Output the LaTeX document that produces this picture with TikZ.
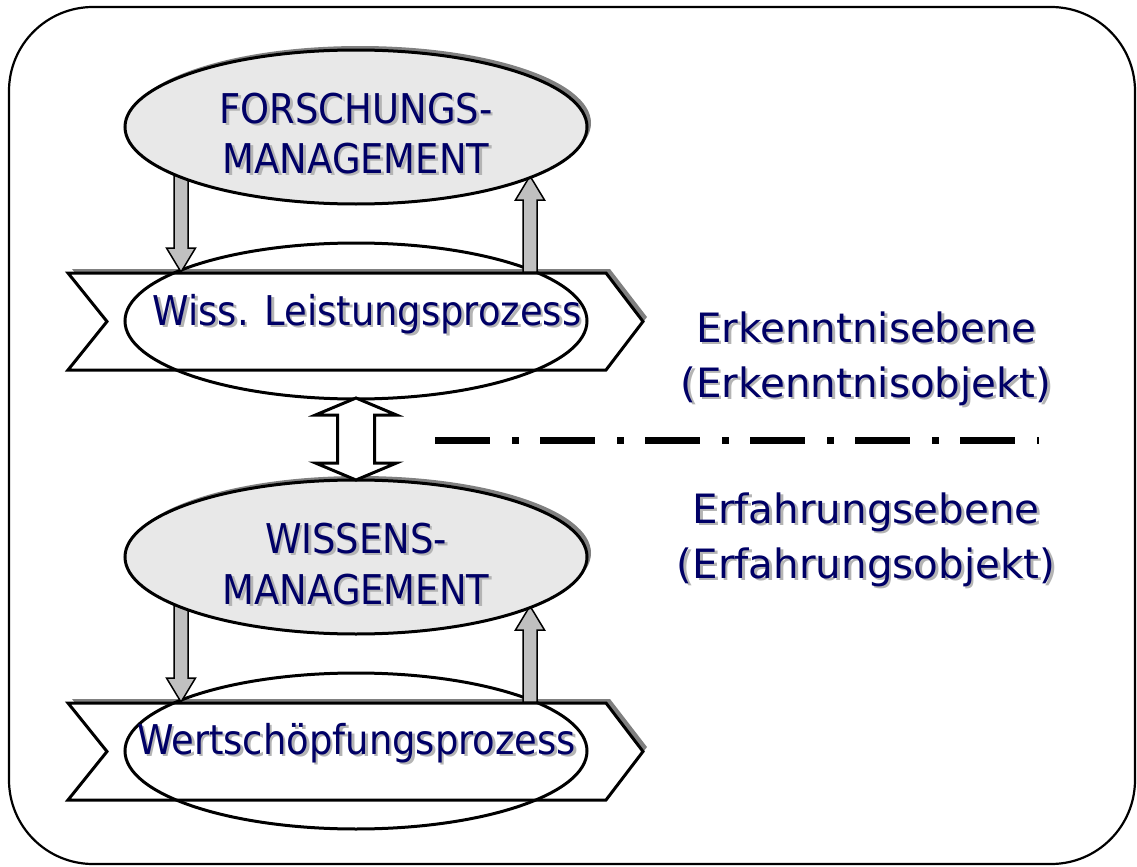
\documentclass[tikz,border=0pt]{standalone}
\usepackage{fontspec}
\setmainfont{DejaVu Sans}
\newfontfamily\condfont[FakeStretch=0.9]{DejaVu Sans}
\usetikzlibrary{shapes.geometric,calc}
\definecolor{txtnavy}{RGB}{0,0,102}
\definecolor{txtshadow}{RGB}{180,180,180}
\definecolor{ellfill}{RGB}{232,232,232}
\definecolor{shadowgray}{RGB}{128,128,128}
\definecolor{arrowgray}{RGB}{192,192,192}
\newcommand\shtxt[1]{\makebox[0pt][l]{\hspace{1.3pt}\raisebox{-1.3pt}{\color{txtshadow}#1}}{\color{txtnavy}#1}}
\newcommand\blk[3]{\draw[blockarr] ($(#1)+(-7,0)$) -- ($(#2)+(-7,-24*#3)$) -- ($(#2)+(-14.5,-24*#3)$) -- (#2) -- ($(#2)+(14.5,-24*#3)$) -- ($(#2)+(7,-24*#3)$) -- ($(#1)+(7,0)$) -- cycle;}
\tikzset{
  mgmt/.style={ellipse, draw, line width=1.5pt, fill=ellfill, minimum width=231pt, minimum height=77pt, inner sep=0pt},
  mgmtshadow/.style={ellipse, fill=shadowgray, minimum width=231pt, minimum height=77pt, inner sep=0pt},
  proc/.style={ellipse, draw, line width=1.5pt, minimum width=231pt, minimum height=78pt, inner sep=0pt},
  blockarr/.style={draw, line width=0.75pt, fill=arrowgray, line join=miter},
  lbl/.style={inner sep=0pt, anchor=base, font=\condfont\fontsize{20.5}{25}\selectfont},
  rlbl/.style={inner sep=0pt, anchor=base, font=\fontsize{20.2}{27.5}\selectfont},
  chevron/.pic={
    \fill[shadowgray] (72,-52.5) -- (610,-52.5) -- (647,-4.5) -- (610,44.5) -- (72,44.5) -- (111,-4.5) -- cycle;
    \draw[line width=1.5pt, fill=white] (68,-48.5) -- (606,-48.5) -- (643,0) -- (606,48.5) -- (68,48.5) -- (107,0) -- cycle;
  }
}
\begin{document}
\begin{tikzpicture}[x=0.5pt,y=-0.5pt]
\useasboundingbox (0,0) rectangle (1137,867);
% frame
\draw[line width=1.1pt, rounded corners=42pt] (9,7) rectangle (1135,864);
% process chevrons and ellipses
\pic at (0,321.5) {chevron};
\pic at (0,751.5) {chevron};
\node[proc] (wl) at (356,321) {};
\node[proc] (ws) at (356,751) {};
% arrow end points
\coordinate (d1s) at (181,174);
\coordinate (d1t) at (181,272);
\coordinate (u1s) at (530,272);
\coordinate (u1t) at (530,176);
\coordinate (d2s) at (181,604);
\coordinate (d2t) at (181,702);
\coordinate (u2s) at (530,702);
\coordinate (u2t) at (530,606);
\blk{d1s}{d1t}{1}
\blk{u1s}{u1t}{-1}
\blk{d2s}{d2t}{1}
\blk{u2s}{u2t}{-1}
% management ellipses
\node[mgmtshadow] (fmsh) at (360,123) {};
\node[mgmt] (fm) at (356,127) {};
\node[mgmtshadow] (wmsh) at (360,553) {};
\node[mgmt] (wm) at (356,557) {};
% double arrow
\coordinate (da1) at (356,398);
\coordinate (da2) at (356,480);
\draw[line width=1.5pt, fill=white, line join=miter] (da1) -- ($(da1)+(40.5,17)$) -- ($(da1)+(18.5,17)$) -- ($(da2)+(18.5,-17)$) -- ($(da2)+(40.5,-17)$) -- (da2) -- ($(da2)+(-40.5,-17)$) -- ($(da2)+(-18.5,-17)$) -- ($(da1)+(-18.5,17)$) -- ($(da1)+(-40.5,17)$) -- cycle;
% dash-dot separator
\coordinate (l1) at (435,440);
\coordinate (l2) at (1039,440);
\draw[line width=3.5pt, dash pattern=on 27.5pt off 11pt on 3.5pt off 10.5pt] (l1) -- (l2);
% texts
\node[lbl] (t1) at (356,123) {\shtxt{FORSCHUNGS-}};
\node[lbl] (t2) at (356,173) {\shtxt{MANAGEMENT}};
\node[lbl] (t3) at (367,325) {\shtxt{Wiss. Leistungsprozess}};
\node[lbl] (t4) at (356,553) {\shtxt{WISSENS-}};
\node[lbl] (t5) at (356,604) {\shtxt{MANAGEMENT}};
\node[lbl] (t6) at (356.5,754) {\shtxt{Wertschöpfungsprozess}};
\node[rlbl] (r1) at (866,342) {\shtxt{Erkenntnisebene}};
\node[rlbl] (r2) at (866,397) {\shtxt{(Erkenntnisobjekt)}};
\node[rlbl] (r3) at (866,523) {\shtxt{Erfahrungsebene}};
\node[rlbl] (r4) at (866,578) {\shtxt{(Erfahrungsobjekt)}};
\end{tikzpicture}
\end{document}
